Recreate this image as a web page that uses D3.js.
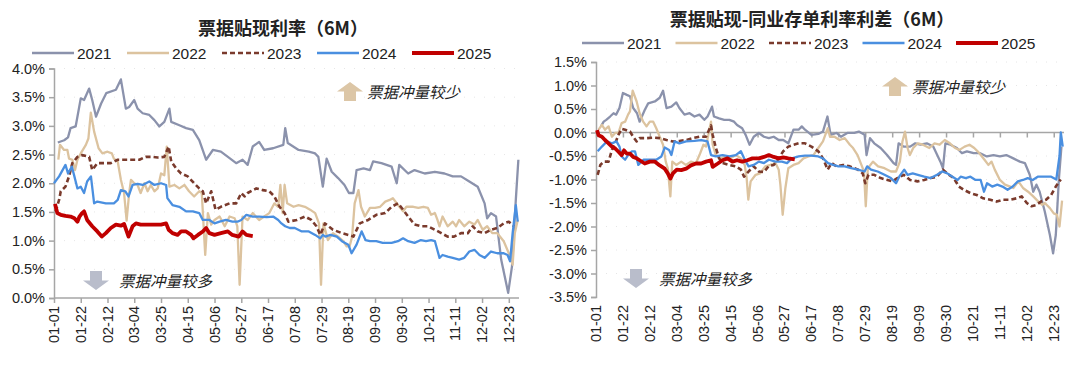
<!DOCTYPE html>
<html>
<head>
<meta charset="utf-8">
<script src="https://cdn.jsdelivr.net/npm/d3@7"></script>
<style>
  body { margin: 0; background: #fff; }
  svg { display: block; }
</style>
</head>
<body>
<script>
// years shown in both charts
const years = ["2021", "2022", "2023", "2024", "2025"]
// x axis labels, one every 21 days starting 01-01
const dateLabels = ["01-01", "01-22", "02-12", "03-04", "03-25", "04-15", "05-06", "05-27", "06-17",
  "07-08", "07-29", "08-19", "09-09", "09-30", "10-21", "11-11", "12-02", "12-23"]

// left chart: 票据贴现利率 (6M), [day of year, %]
const rate2021 = [[3,2.71],[8,2.75],[11,2.80],[13,2.96],[17,2.99],[21,3.48],[23.6,3.45],[27.6,3.65],[30,3.45],[33,3.16],[37,3.39],[41,3.57],[48.6,3.63],[52.5,3.81],[56.4,3.30],[59,3.33],[63,3.45],[65.6,3.30],[69.6,3.22],[74.8,3.19],[78.8,3.10],[82.7,2.99],[86.6,3.07],[90.6,3.30],[92,3.07],[98.4,3.01],[103.7,2.96],[109,2.93],[114,2.75],[119.4,2.41],[124.7,2.58],[131,2.55],[136.5,2.46],[143,2.35],[148,2.41],[152,2.32],[156,2.64],[161,2.72],[165,2.58],[172,2.61],[180,2.67],[181.5,2.96],[183.5,2.70],[192,2.58],[200,2.55],[205,2.52],[207.5,2.46],[211,1.94],[214,2.43],[218,2.20],[223,2.09],[228,1.97],[231.5,1.83],[235,1.83],[237.5,2.23],[243,2.26],[248,2.23],[250.5,2.38],[257,2.35],[265,2.29],[269,2.00],[271,2.32],[278,2.17],[283,2.23],[291,2.17],[299,2.20],[306.5,2.17],[313,2.12],[319.5,2.12],[326,2.03],[332.6,1.94],[338,1.65],[340,1.39],[343,1.48],[347,1.42],[351,0.67],[356.5,0.09],[359.5,0.55],[362.5,1.71],[364.5,2.41]]
const rate2022 = [[3.4,2.41],[4.7,2.67],[7.9,2.58],[10.5,2.58],[11.8,2.43],[14.4,2.41],[16.5,2.23],[18.4,2.41],[21,2.52],[25,2.67],[27,2.78],[28.9,3.23],[31.5,2.90],[35,2.61],[38,2.52],[42,2.55],[45.4,2.52],[47,2.43],[50,2.38],[52.5,2.06],[55,1.83],[57,1.35],[59,1.83],[60.4,2.06],[63,2.00],[65.6,1.97],[68,1.83],[71,2.00],[73.5,1.86],[76,1.97],[78.8,1.86],[81.4,1.91],[84,2.17],[86.6,2.14],[88.5,2.64],[90.6,1.94],[94.5,1.97],[98.4,1.91],[102.4,1.97],[106,1.86],[110,1.77],[114,1.86],[116,1.83],[118.7,0.75],[120.8,1.48],[123.4,1.28],[126,1.36],[130,1.42],[134,1.25],[137.8,1.42],[141.8,1.39],[143.9,1.25],[145.7,0.23],[148,1.42],[152,1.36],[156,1.48],[161,1.36],[165,1.42],[169,1.48],[173,1.65],[176,1.59],[177.7,1.97],[179.5,1.48],[181,1.97],[183,1.65],[188,1.59],[192,1.62],[197,1.59],[201,1.54],[205,1.48],[208,1.30],[209.6,0.23],[211.5,1.30],[215,1.01],[219,1.13],[223,1.07],[227,0.99],[229.7,0.90],[232,0.90],[234,1.07],[236,1.65],[239,1.88],[241,1.59],[244,1.42],[248,1.57],[252,1.57],[256,1.59],[260,1.68],[263.5,1.71],[266,1.74],[270,1.62],[274,1.51],[276.6,1.59],[282,1.59],[286,1.57],[290,1.59],[293.5,1.57],[296,1.45],[299,1.48],[301,1.36],[302.6,1.25],[305,1.42],[309,1.25],[313,1.33],[315.6,1.25],[318,1.36],[322,1.25],[326,1.33],[330,1.28],[332.6,1.36],[336.5,1.19],[340,1.25],[344,1.13],[348,1.13],[353,0.99],[357,0.78],[360,0.58],[361.7,1.13],[364,1.36]]
const rate2023 = [[1.3,1.51],[4,1.71],[5.3,1.86],[9,1.94],[11.8,2.12],[14.4,2.35],[18.4,2.46],[22,2.49],[27.6,2.46],[30,2.23],[34,2.35],[38,2.35],[44.6,2.35],[50,2.41],[56.4,2.41],[61.7,2.41],[67,2.41],[72,2.46],[77.4,2.46],[81.4,2.45],[86.6,2.46],[90,2.64],[92,2.38],[95.8,2.26],[99.8,2.17],[105,2.12],[110,2.00],[114,1.91],[116.8,1.86],[119.4,1.65],[123.4,1.86],[126.8,1.54],[131,1.59],[137.8,1.65],[143,1.65],[147,1.83],[149.6,1.77],[152,1.83],[158.8,1.91],[164,1.88],[169,1.86],[173,1.77],[177,1.59],[181,1.48],[184,1.33],[190.6,1.36],[197,1.42],[202,1.36],[206,1.25],[209,1.10],[212.7,1.30],[219,1.19],[226,1.13],[231,1.10],[235,1.07],[240,1.30],[246.6,1.36],[253,1.45],[260,1.48],[265,1.59],[270,1.65],[274,1.54],[278,1.42],[283,1.28],[288,1.25],[293.5,1.25],[299,1.19],[304,1.13],[309,1.07],[314,1.07],[319.5,1.13],[324.8,1.13],[328.7,1.25],[332.6,1.16],[338,1.13],[343,1.19],[348,1.22],[353,1.30],[357,1.33],[361,1.25]]
const rate2024 = [[0,2.00],[4,2.12],[9,2.32],[11,2.17],[14,2.29],[16,2.12],[18.4,1.91],[21,1.94],[23.6,1.83],[26,2.03],[29,2.12],[31.5,1.65],[34,1.68],[40.7,1.65],[47,1.65],[50,1.71],[52.5,1.88],[56,1.86],[58.5,1.77],[61.7,1.97],[65.6,1.99],[69.6,1.97],[74.8,2.03],[78.8,1.97],[84,2.00],[88,1.97],[89,1.74],[93,1.62],[98.4,1.59],[103.7,1.51],[109,1.51],[114,1.48],[116.8,1.36],[122,1.36],[126,1.30],[130,1.33],[135,1.36],[140,1.33],[144,1.33],[147,1.36],[151,1.45],[156,1.42],[161,1.42],[167,1.41],[172,1.42],[176,1.36],[178.5,1.30],[181.5,1.25],[185,1.22],[189,1.22],[194.5,1.16],[200,1.16],[205,1.10],[209,1.04],[211,1.10],[213,1.07],[217,1.10],[222,1.07],[226,0.99],[231,0.93],[233.6,0.78],[237.5,0.93],[241.5,1.16],[244.5,1.01],[248,0.99],[253,0.99],[258,0.96],[265,0.96],[270,0.99],[274,1.04],[278,0.99],[283,0.96],[288,1.01],[292,0.99],[296,1.01],[299,0.99],[302.6,0.70],[305,0.75],[309,0.72],[313,0.70],[318,0.67],[322,0.70],[326,0.81],[330,0.84],[334,0.75],[338,0.70],[343,0.81],[348,0.78],[353,0.78],[356,0.75],[358,0.64],[360,1.13],[362.5,1.62],[364,1.33]]
const rate2025 = [[0.8,1.64],[2.6,1.48],[5.3,1.45],[9,1.43],[13,1.42],[16,1.39],[18.4,1.33],[20,1.42],[22,1.48],[23.6,1.51],[26,1.36],[30,1.25],[34,1.16],[37.5,1.07],[40.7,1.13],[44.6,1.22],[48.6,1.28],[52.5,1.26],[55,1.29],[58.5,1.07],[61.7,1.25],[64.3,1.30],[68,1.28],[73.5,1.28],[78.8,1.28],[84,1.28],[88,1.30],[90,1.19],[93,1.13],[97,1.10],[99.8,1.16],[103.7,1.16],[107.6,1.10],[109.5,1.04],[113,1.10],[116.8,1.16],[119.4,1.22],[122,1.13],[126,1.10],[131,1.13],[136.5,1.16],[140,1.10],[145,1.07],[148,1.16],[151,1.10],[156,1.08]]

// right chart: 票据贴现-同业存单利率利差 (6M), [day of year, %]
const spread2021 = [[3.9,0.13],[6,0.23],[8,0.27],[11,0.34],[13.7,0.41],[15.7,0.38],[18.3,0.52],[21,0.84],[24,0.80],[26.5,0.77],[29,0.52],[32,0.41],[34,0.23],[38,0.48],[40.7,0.62],[45.9,0.66],[49.7,0.74],[52.3,0.89],[55,0.52],[58.8,0.55],[62.6,0.64],[65,0.52],[69,0.38],[73,0.41],[76.8,0.34],[80.7,0.38],[84.5,0.27],[87,0.34],[90.5,0.55],[92,0.34],[96,0.30],[100,0.27],[104,0.27],[107.7,0.23],[110,0.16],[114,0.09],[116.7,-0.05],[119.8,-0.26],[123,-0.09],[127,-0.01],[131,-0.09],[134.8,-0.12],[138.6,-0.09],[142.5,-0.16],[146,-0.16],[150,-0.23],[154,0.06],[158,0.06],[160.5,0.13],[163,0.06],[168,-0.05],[173.4,-0.03],[177,0.02],[180.5,0.34],[183,-0.05],[187.5,-0.01],[191,-0.09],[196,-0.01],[201.5,-0.01],[205,0.02],[209.5,-0.05],[211,-0.48],[213.7,-0.12],[217,-0.23],[222,-0.33],[227,-0.48],[232,-0.65],[234,-0.69],[236,-0.23],[240,-0.30],[245,-0.30],[249,-0.23],[253,-0.26],[258,-0.23],[263,-0.30],[268.6,-0.62],[270.6,-0.76],[272.5,-0.23],[276.4,-0.26],[281.5,-0.33],[285.4,-0.44],[289.3,-0.40],[294.5,-0.44],[299.6,-0.44],[304.8,-0.51],[310,-0.48],[315,-0.51],[320,-0.48],[325.5,-0.55],[330.6,-0.62],[334.5,-0.65],[338.3,-0.90],[341,-1.26],[343.5,-1.11],[346,-1.26],[350,-1.68],[354,-2.18],[356.5,-2.57],[358.6,-2.18],[361,-1.0],[363,-0.3]]
const spread2022 = [[2,0.06],[4.6,0.16],[7,0.06],[9.8,0.13],[12.4,-0.09],[15,-0.01],[17.5,-0.01],[20,0.20],[22.7,0.23],[25,0.38],[26.5,0.45],[28.6,0.89],[31.7,0.66],[34,0.41],[36.8,0.23],[39.4,0.13],[42,0.23],[44.6,0.23],[47,0.09],[49.7,-0.09],[52.3,-0.26],[54.4,-0.62],[56,-0.76],[58,-1.36],[59.5,-0.62],[62.6,-0.69],[66.5,-0.62],[70,-0.69],[74,-0.62],[78,-0.65],[80.7,-0.48],[83.8,-0.26],[85.8,-0.30],[88.4,0.06],[89.7,0.23],[91,-0.26],[93.5,-0.48],[97.4,-0.55],[101,-0.51],[105,-0.55],[109,-0.48],[113,-0.55],[116,-0.69],[117.5,-0.97],[118.8,-1.43],[120.6,-1.04],[124.5,-0.90],[128,-0.87],[132,-0.72],[136,-0.69],[140,-0.65],[142.5,-0.79],[143.8,-1.11],[145.6,-1.75],[147.7,-1.18],[150,-0.76],[154,-0.69],[158,-0.65],[161.8,-0.55],[165.7,-0.51],[169.6,-0.48],[173.4,-0.33],[177,-0.19],[180.7,0.09],[182.5,-0.09],[186,-0.09],[190,-0.16],[194,-0.12],[198,-0.26],[200.5,-0.33],[204,-0.48],[207,-0.69],[209,-0.83],[210.4,-1.57],[212,-0.76],[216,-0.62],[220,-0.72],[225,-0.76],[230,-0.83],[234,-0.83],[237,-0.62],[239,-0.19],[241,0.02],[243,-0.33],[244.8,-0.48],[247.4,-0.33],[251,-0.23],[255,-0.26],[260,-0.33],[264,-0.23],[268,-0.26],[272,-0.16],[276,-0.23],[280,-0.33],[283.5,-0.37],[287.5,-0.30],[291.3,-0.26],[295,-0.33],[299,-0.44],[303,-0.58],[306,-0.69],[308.5,-0.62],[311,-0.79],[315,-1.01],[319,-1.11],[323,-1.15],[325.5,-1.18],[329.4,-1.04],[333,-1.18],[337,-1.26],[341,-1.36],[345,-1.47],[348,-1.54],[350,-1.50],[354,-1.61],[357,-1.72],[359.5,-1.75],[361.5,-2.0],[363.5,-1.45]]
const spread2023 = [[1.3,-0.90],[3.4,-0.69],[6,-0.62],[9.8,-0.62],[12.4,-0.37],[15,-0.23],[17.5,-0.05],[20,0.08],[22.7,0.06],[26.5,0.02],[29,-0.09],[31.7,-0.19],[34,-0.12],[39.4,-0.12],[44.6,-0.11],[49.7,-0.12],[55,-0.16],[60,-0.19],[65,-0.18],[70.3,-0.16],[75.5,-0.12],[80.7,-0.09],[85.8,-0.09],[89.7,0.15],[91,-0.05],[93.5,-0.33],[96,-0.55],[98.7,-0.65],[104,-0.69],[109,-0.72],[113,-0.79],[115.5,-0.94],[119,-0.83],[123,-0.72],[127,-0.83],[131,-0.84],[134.8,-0.71],[138.6,-0.69],[142.5,-0.55],[146,-0.40],[150,-0.30],[154,-0.26],[158,-0.23],[163,-0.23],[168,-0.30],[173.4,-0.40],[177,-0.55],[180.7,-0.79],[183.7,-0.65],[187.5,-0.72],[192.7,-0.69],[198,-0.72],[204.3,-0.79],[208,-0.87],[210,-1.08],[212.5,-0.90],[217,-0.90],[222,-0.97],[227.4,-1.01],[231,-1.04],[235,-0.97],[240,-0.90],[245,-1.01],[250.6,-1.04],[256,-1.01],[261,-0.97],[266,-0.94],[270.6,-0.79],[273.8,-0.87],[279,-0.97],[283,-1.15],[287,-1.22],[292,-1.29],[297,-1.33],[302,-1.40],[307.5,-1.43],[312.5,-1.47],[317.6,-1.43],[323,-1.43],[328,-1.40],[332,-1.36],[336,-1.50],[339.6,-1.57],[343.5,-1.54],[347,-1.47],[351,-1.43],[355,-1.33],[358.6,-1.15],[362.5,-1.0]]
const spread2024 = [[1.3,-0.40],[4.6,-0.30],[8.5,-0.19],[12.4,-0.23],[16,-0.19],[18.3,-0.30],[20,-0.51],[22.7,-0.58],[25,-0.48],[28,-0.40],[30.4,-0.40],[33,-0.69],[37,-0.58],[42,-0.58],[47,-0.58],[51,-0.51],[53.6,-0.32],[57,-0.37],[58.8,-0.48],[61.3,-0.19],[65,-0.23],[70.3,-0.19],[76.8,-0.18],[82,-0.16],[87,-0.19],[89.7,-0.48],[93.5,-0.51],[98.7,-0.48],[104,-0.51],[109,-0.48],[113,-0.40],[115.5,-0.55],[119,-0.72],[123,-0.69],[127,-0.62],[131,-0.65],[134.8,-0.58],[140,-0.62],[145,-0.62],[149,-0.65],[152.8,-0.55],[158,-0.51],[163,-0.49],[168,-0.49],[173.4,-0.51],[177,-0.55],[181,-0.65],[185,-0.69],[189,-0.72],[194,-0.72],[199,-0.76],[204.3,-0.79],[209.5,-0.83],[211.5,-0.72],[214.5,-0.79],[219.7,-0.83],[225,-0.90],[230,-0.97],[234,-1.08],[236.5,-0.94],[240.4,-0.79],[243,-0.90],[247,-0.87],[251,-0.90],[256,-0.94],[261,-0.97],[266,-0.90],[270,-0.83],[274,-0.87],[278,-0.94],[282,-1.01],[284.4,-0.94],[288.4,-0.97],[292,-0.94],[296,-1.01],[300,-1.01],[302.6,-1.26],[305,-1.08],[309,-1.15],[313,-1.11],[317,-1.15],[321,-1.22],[325,-1.15],[329,-1.04],[333,-1.01],[336.7,-0.97],[340.6,-1.01],[344.5,-0.94],[350,-0.94],[355,-0.94],[359,-1.00],[361.5,-0.5],[362.5,0.0],[364,-0.3]]
const spread2025 = [[0.8,0.05],[2,-0.06],[4.6,-0.09],[7,-0.16],[9.8,-0.23],[12.4,-0.30],[15,-0.34],[17.5,-0.41],[20,-0.48],[21.9,-0.38],[24,-0.45],[26.5,-0.45],[29,-0.52],[31.7,-0.55],[34,-0.59],[38,-0.66],[42,-0.62],[46,-0.62],[49.7,-0.70],[53.6,-0.77],[56,-0.87],[58,-0.98],[60,-0.87],[63,-0.79],[66.5,-0.80],[70.3,-0.77],[74,-0.70],[78,-0.66],[82,-0.66],[85.8,-0.62],[89.7,-0.59],[91,-0.73],[95,-0.66],[98.7,-0.59],[102.6,-0.55],[106.4,-0.62],[110,-0.59],[114,-0.62],[118,-0.59],[122,-0.55],[127,-0.55],[131,-0.52],[134.8,-0.48],[138.6,-0.52],[142.5,-0.55],[146,-0.53],[150,-0.55],[155,-0.57]]

const leftTicks = [0, 0.5, 1, 1.5, 2, 2.5, 3, 3.5, 4]
const rightTicks = [-3.5, -3, -2.5, -2, -1.5, -1, -0.5, 0, 0.5, 1, 1.5]

const lineStyle = {
  "2021": { color: "#8b92ac", width: 2.3, dash: null },
  "2022": { color: "#dcc39f", width: 2.3, dash: null },
  "2023": { color: "#7a3a2c", width: 2.6, dash: "5,3" },
  "2024": { color: "#4a8fe0", width: 2.3, dash: null },
  "2025": { color: "#c00000", width: 3.8, dash: null }
}

const W = 1080, H = 367
const svg = d3.select("body").append("svg").attr("width", W).attr("height", H)
svg.append("rect").attr("width", W).attr("height", H).attr("fill", "#fff")

const numFont = "'Liberation Sans', Arial, sans-serif"
const cjkFont = "'Noto Sans CJK SC', sans-serif"

function drawChart(o) {
  const g = svg.append("g")
  const x = d3.scaleLinear().domain([0, 365]).range([o.left, o.right])
  const y = d3.scaleLinear().domain([o.ticks[0], o.ticks[o.ticks.length - 1]]).range([o.bottom, o.top])

  // faint dotted grid
  g.selectAll(".grid").data(o.ticks.slice(1)).enter().append("line")
    .attr("x1", o.left).attr("x2", o.right)
    .attr("y1", d => y(d)).attr("y2", d => y(d))
    .attr("stroke", "#e6e6e6").attr("stroke-dasharray", "1,9")

  // y axis
  const yAxis = d3.axisLeft(y).tickValues(o.ticks).tickSize(5).tickFormat(d => d.toFixed(1) + "%")
  const ya = g.append("g").attr("transform", "translate(" + o.left + ",0)").call(yAxis)
  ya.select(".domain").attr("stroke", "#a6a6a6").attr("stroke-width", 1.5)
  ya.selectAll(".tick line").attr("stroke", "#a6a6a6").attr("stroke-width", 1.5)
  ya.selectAll("text").attr("font-family", numFont).attr("font-size", 14.5).attr("fill", "#222").attr("x", -9)

  // x axis line at zero
  const tickDays = dateLabels.map((d, i) => i * 21)
  const xAxis = d3.axisBottom(x).tickValues(tickDays).tickSize(5).tickFormat("")
  const xa = g.append("g").attr("transform", "translate(0," + y(0) + ")").call(xAxis)
  xa.select(".domain").attr("stroke", "#a6a6a6").attr("stroke-width", 1.5).attr("d", "M" + o.left + ",0H" + o.right)
  xa.selectAll(".tick line").attr("stroke", "#a6a6a6").attr("stroke-width", 1.5)

  // rotated date labels under the plot
  g.selectAll(".dlab").data(dateLabels).enter().append("text")
    .attr("transform", (d, i) => "translate(" + (x(tickDays[i]) + 5) + "," + (o.bottom + 8) + ") rotate(-90)")
    .attr("text-anchor", "end")
    .attr("font-family", numFont).attr("font-size", 14.5).attr("fill", "#222")
    .text(d => d)

  // series
  const line = d3.line().x(d => x(d[0])).y(d => y(d[1]))
  years.forEach((yr, i) => {
    const s = lineStyle[yr]
    g.append("path").datum(o.series[i])
      .attr("d", line)
      .attr("fill", "none")
      .attr("stroke", s.color)
      .attr("stroke-width", s.width)
      .attr("stroke-dasharray", s.dash)
      .attr("stroke-linejoin", "round")
  })

  // title
  g.append("text").attr("x", o.titleX).attr("y", o.titleY)
    .attr("text-anchor", "middle").attr("font-family", cjkFont)
    .attr("font-weight", "bold").attr("font-size", 18).attr("fill", "#222")
    .text(o.title)

  // legend
  const lg = g.selectAll(".leg").data(years).enter().append("g")
    .attr("transform", (d, i) => "translate(" + (o.legendX + i * o.legendStep) + "," + o.legendY + ")")
  lg.append("line").attr("x1", 0).attr("x2", 42).attr("y1", 0).attr("y2", 0)
    .attr("stroke", d => lineStyle[d].color)
    .attr("stroke-width", d => d == "2025" ? 4 : lineStyle[d].width)
    .attr("stroke-dasharray", d => lineStyle[d].dash)
  lg.append("text").attr("x", 45).attr("y", 5.5)
    .attr("font-family", numFont).attr("font-size", 15.5).attr("fill", "#222")
    .text(d => d)

  // annotations
  arrow(g, o.upArrow[0], o.upArrow[1], true, "#dcc6a6")
  g.append("text").attr("x", o.upArrow[0] + 30).attr("y", o.upArrow[1] + 16)
    .attr("font-family", cjkFont).attr("font-style", "italic").attr("font-size", 15.5).attr("fill", "#222")
    .text("票据冲量较少")
  arrow(g, o.downArrow[0], o.downArrow[1], false, "#b9bdcb")
  g.append("text").attr("x", o.downArrow[0] + 36).attr("y", o.downArrow[1] + 16)
    .attr("font-family", cjkFont).attr("font-style", "italic").attr("font-size", 15.5).attr("fill", "#222")
    .text("票据冲量较多")
}

// block arrow, (ax, ay) = top-left corner, 26 x 19
function arrow(g, ax, ay, up, color) {
  const w = 26, h = 19, sw = 12
  const pts = up
    ? [[w / 2, 0], [w, h * 0.5], [(w + sw) / 2, h * 0.5], [(w + sw) / 2, h], [(w - sw) / 2, h], [(w - sw) / 2, h * 0.5], [0, h * 0.5]]
    : [[w / 2, h], [w, h * 0.5], [(w + sw) / 2, h * 0.5], [(w + sw) / 2, 0], [(w - sw) / 2, 0], [(w - sw) / 2, h * 0.5], [0, h * 0.5]]
  g.append("polygon")
    .attr("points", pts.map(p => (ax + p[0]) + "," + (ay + p[1])).join(" "))
    .attr("fill", color)
}

drawChart({
  left: 54, right: 519, top: 68.5, bottom: 298,
  ticks: leftTicks,
  series: [rate2021, rate2022, rate2023, rate2024, rate2025],
  title: "票据贴现利率（6M）", titleX: 283, titleY: 35,
  legendX: 32, legendY: 53, legendStep: 95,
  upArrow: [337, 82], downArrow: [83, 271]
})

drawChart({
  left: 596, right: 1064, top: 62, bottom: 297,
  ticks: rightTicks,
  series: [spread2021, spread2022, spread2023, spread2024, spread2025],
  title: "票据贴现-同业存单利率利差（6M）", titleX: 812, titleY: 26,
  legendX: 582, legendY: 43, legendStep: 93.5,
  upArrow: [882, 77], downArrow: [623, 269]
})
</script>
</body>
</html>
